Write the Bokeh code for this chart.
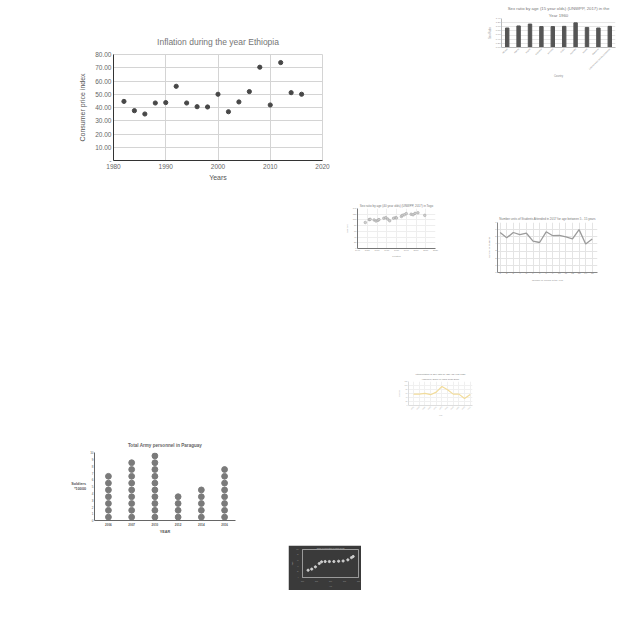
import math
from bokeh.plotting import figure
from bokeh.layouts import column, row
from bokeh.models import Range1d, FixedTicker, Title, FactorRange, CustomJSTickFormatter, Spacer
from bokeh.embed import file_html
from bokeh.resources import INLINE

FONT = "Liberation Sans"

# ---------------- data ----------------
# Main chart: Inflation during the year Ethiopia
eth_years = [1982, 1984, 1986, 1988, 1990, 1992, 1994, 1996, 1998, 2000,
             2002, 2004, 2006, 2008, 2010, 2012, 2014, 2016]
eth_cpi = [44.6, 37.6, 35.1, 43.4, 43.7, 56.0, 43.4, 40.6, 40.4, 50.0,
           36.8, 44.2, 52.0, 70.4, 41.9, 73.9, 51.2, 50.0]
eth_xticks = [1980, 1990, 2000, 2010, 2020]
eth_yticks = [0, 10, 20, 30, 40, 50, 60, 70, 80]

# Sex ratio bar chart (1960)
sr_countries = ["Albania", "Algeria", "Angola", "Argentina", "Armenia", "Aruba",
                "Australia", "Austria", "Bahamas", "Latin America and the Caribbean"]
sr_values = [0.94, 1.04, 1.13, 1.01, 1.01, 1.02, 1.19, 0.97, 0.94, 1.02]
sr_yticks = [0, 0.2, 0.4, 0.6, 0.8, 1.0, 1.2, 1.4]

# Togo scatter
togo_years = [1948, 1952, 1953, 1957, 1959, 1961, 1962, 1967, 1969, 1971, 1973, 1977,
              1979, 1980, 1985, 1986, 1988, 1990, 1995, 1997, 1999, 2002, 2009]
togo_ratio = [91, 101, 102, 100, 96, 99, 101, 106, 108, 103, 97, 106,
              108, 107, 112, 116, 118, 122, 120, 118, 123, 125, 116]
togo_xticks = [1940, 1950, 1960, 1970, 1980, 1990, 2000, 2010, 2020]

# Students line chart
stu_x = list(range(1, 16))
stu_y = [5.6, 4.85, 5.6, 5.3, 5.5, 4.4, 4.2, 5.7, 5.15, 5.2, 5.0, 4.7, 6.0, 4.0, 4.7]

# Yellow line chart
yel_labels = ["1950", "1955", "1960", "1965", "1970", "1975", "1980", "1985", "1990", "1995", "2000"]
yel_values = [57, 57, 61, 54, 67, 95, 79, 57, 57, 35, 55]

# Paraguay army pictogram
par_years = ["2006", "2007", "2010", "2012", "2014", "2016"]
par_counts = [7, 9, 10, 4, 5, 8]

# Dark scatter
dark_x = [2002, 2003.3, 2004.6, 2006, 2006.8, 2008.1, 2009.6, 2011.2, 2012.9, 2014.5, 2016.2, 2017.5, 2018.1]
dark_y = [26, 30, 38, 50, 56, 57, 57, 57, 58, 59, 63, 71, 75]


def fig(width, height, **kw):
    return figure(width=width, height=height, output_backend="svg",
                  toolbar_location=None, **kw)


def style_axes(p, size, color="#8a8a8a", label_size=None, line_color="#bbbbbb"):
    for ax in p.axis:
        ax.major_label_text_font = FONT
        ax.major_label_text_font_size = size
        ax.major_label_text_color = color
        ax.axis_label_text_font = FONT
        ax.axis_label_text_font_size = label_size or size
        ax.axis_label_text_font_style = "normal"
        ax.axis_label_text_color = color
        ax.major_tick_line_color = None
        ax.minor_tick_line_color = None
        ax.major_tick_out = 0
        ax.major_label_standoff = 1
        ax.axis_label_standoff = 1
        ax.axis_line_color = line_color


def add_title(p, text, size, color="#777777", standoff=2, style="normal"):
    p.add_layout(Title(text=text, align="center", text_font=FONT, text_font_size=size,
                       text_color=color, text_font_style=style, standoff=standoff), "above")


# ---------------- main chart ----------------
pm = fig(260, 163, x_range=Range1d(1980, 2020), y_range=Range1d(0, 80),
         min_border_left=43, min_border_right=8, min_border_top=29, min_border_bottom=28)
pm.title.text = "Inflation during the year Ethiopia"
pm.title.align = "center"
pm.title.text_font = FONT
pm.title.text_font_size = "8.5px"
pm.title.text_font_style = "normal"
pm.title.text_color = "#757575"
pm.title.standoff = 15
pm.outline_line_color = "#d4d4d4"
pm.scatter(eth_years, eth_cpi, size=4.2, color="#474747")
pm.xaxis.ticker = FixedTicker(ticks=eth_xticks)
pm.yaxis.ticker = FixedTicker(ticks=eth_yticks)
pm.yaxis.formatter = CustomJSTickFormatter(code="return tick == 0 ? '-' : tick.toFixed(2);")
pm.xaxis.axis_label = "Years"
pm.yaxis.axis_label = "Consumer price index"
for ax in pm.axis:
    ax.major_label_text_font = FONT
    ax.major_label_text_font_size = "6.5px"
    ax.major_label_text_color = "#666666"
    ax.axis_label_text_font = FONT
    ax.axis_label_text_font_size = "7px"
    ax.axis_label_text_font_style = "normal"
    ax.axis_label_text_color = "#555555"
    ax.major_tick_line_color = None
    ax.minor_tick_line_color = None
    ax.major_tick_out = 0
    ax.axis_line_color = "#333333"
    ax.major_label_standoff = 2
pm.yaxis.axis_label_standoff = 6
pm.xaxis.axis_label_standoff = 2
pm.xaxis.major_label_standoff = 3
pm.grid.grid_line_color = "#d4d4d4"

# ---------------- sex ratio bars ----------------
pb = fig(145, 85, x_range=FactorRange(*sr_countries), y_range=Range1d(0, 1.4),
         min_border_left=26, min_border_right=5, min_border_top=18, min_border_bottom=38)
add_title(pb, "Year 1960", "4.3px", standoff=1)
add_title(pb, "Sex ratio by age (15 year olds) (UNWPP, 2017) in the", "4.3px", standoff=0)
pb.vbar(x=sr_countries, top=sr_values, width=0.3, color="#555555")
pb.yaxis.ticker = FixedTicker(ticks=sr_yticks)
pb.yaxis.formatter = CustomJSTickFormatter(code="return tick.toFixed(2);")
pb.xaxis.major_label_orientation = math.pi / 4
pb.xaxis.axis_label = "Country"
pb.yaxis.axis_label = "Sex Ratio"
style_axes(pb, "2.4px")
pb.xaxis.major_label_text_font_size = "2px"
pb.xaxis.axis_label_text_font_size = "2.6px"
pb.yaxis.axis_label_text_font_size = "2.6px"
pb.xgrid.grid_line_color = None
pb.ygrid.grid_line_color = "#e6e6e6"
pb.outline_line_color = None

# ---------------- Togo scatter ----------------
pt = fig(107, 64, x_range=Range1d(1940, 2020), y_range=Range1d(0, 140),
         min_border_left=19, min_border_right=10, min_border_top=13, min_border_bottom=10)
add_title(pt, "Sex ratio by age (40 year olds) (UNWPP, 2017) in Togo", "3px", standoff=3)
pt.scatter(togo_years, togo_ratio, size=2.6, fill_color="#cfcfcf", line_color="#9a9a9a", line_width=0.5)
pt.xaxis.ticker = FixedTicker(ticks=togo_xticks)
pt.yaxis.ticker = FixedTicker(ticks=list(range(0, 141, 20)))
pt.xaxis.axis_label = "Location"
pt.yaxis.axis_label = "Sex ratio"
style_axes(pt, "2.2px", line_color="#777777")
pt.grid.grid_line_color = "#eeeeee"
pt.outline_line_color = None

# ---------------- students line ----------------
pl = fig(120, 80, x_range=Range1d(0.6, 15.8), y_range=Range1d(0, 7),
         min_border_left=10, min_border_right=8, min_border_top=14, min_border_bottom=16)
add_title(pl, "Number units of Students Attended in 2017 for age between 5 - 15 years", "3px", standoff=4)
pl.line(stu_x, stu_y, color="#9b9b9b", line_width=1.3)
pl.xaxis.ticker = FixedTicker(ticks=stu_x)
pl.yaxis.ticker = FixedTicker(ticks=list(range(0, 8)))
pl.xaxis.axis_label = "Number of Weeks of the Year"
pl.yaxis.axis_label = "Number of Students"
style_axes(pl, "2.4px", line_color="#888888")
pl.grid.grid_line_color = "#e4e4e4"
pl.grid.minor_grid_line_color = "#f1f1f1"
pl.outline_line_color = None

# ---------------- yellow line ----------------
py = fig(85, 50, x_range=Range1d(-0.9, 10.4), y_range=Range1d(0, 120),
         min_border_left=13, min_border_right=8, min_border_top=10, min_border_bottom=15)
add_title(py, "(UNWPP, 2017) in India 1950-2000", "2.4px", standoff=1)
add_title(py, "Interpretation of Sex ratio by age (15 year olds)", "2.4px", standoff=0)
py.line(list(range(len(yel_values))), yel_values, color="#f2dc9b", line_width=1.2)
py.xaxis.ticker = FixedTicker(ticks=list(range(len(yel_labels))))
py.xaxis.formatter = CustomJSTickFormatter(args=dict(labels=yel_labels),
                                           code="return labels[Math.round(tick)] || '';")
py.xaxis.major_label_orientation = math.pi / 4
py.yaxis.ticker = FixedTicker(ticks=list(range(0, 121, 20)))
py.xaxis.axis_label = "Year"
py.yaxis.axis_label = "Sex ratio"
style_axes(py, "1.8px", color="#aaaaaa", line_color="#dddddd")
py.grid.grid_line_color = "#f0f0f0"
py.outline_line_color = None

# ---------------- Paraguay pictogram ----------------
pp = fig(175, 103, x_range=Range1d(-0.6, 5.47), y_range=Range1d(0, 10),
         min_border_left=25, min_border_right=8, min_border_top=15, min_border_bottom=19)
pp.title.text = "Total Army personnel in Paraguay"
pp.title.align = "center"
pp.title.text_font = FONT
pp.title.text_font_size = "4.6px"
pp.title.text_font_style = "bold"
pp.title.text_color = "#666666"
pp.title.standoff = 9
dot_x, dot_y = [], []
for i, n in enumerate(par_counts):
    for k in range(n):
        dot_x.append(i)
        dot_y.append(k + 0.5)
pp.scatter(dot_x, dot_y, size=5.8, color="#7a7a7a")
pp.xaxis.ticker = FixedTicker(ticks=list(range(len(par_years))))
pp.xaxis.formatter = CustomJSTickFormatter(args=dict(labels=par_years),
                                           code="return labels[Math.round(tick)] || '';")
pp.yaxis.ticker = FixedTicker(ticks=list(range(0, 11)))
pp.xaxis.axis_label = "YEAR"
pp.yaxis.axis_label = "Soldiers\n*10000"
pp.yaxis.axis_label_orientation = "horizontal"
style_axes(pp, "3px", color="#555555", line_color="#666666")
pp.xaxis.axis_label_text_font_style = "bold"
pp.yaxis.axis_label_text_font_style = "bold"
pp.xaxis.axis_label_text_font_size = "3.8px"
pp.yaxis.axis_label_text_font_size = "3.8px"
pp.xaxis.major_label_text_font_style = "bold"
pp.xaxis.major_label_standoff = 2
pp.grid.grid_line_color = None
pp.outline_line_color = None

# ---------------- dark scatter ----------------
pd_ = fig(73, 45, x_range=Range1d(2000, 2020), y_range=Range1d(0, 100),
          min_border_left=9, min_border_right=3, min_border_top=4, min_border_bottom=3,
          background_fill_color="#3a3a3a", border_fill_color="#3a3a3a")
add_title(pd_, "Share of population in urban areas", "1.8px", color="#bbbbbb", standoff=0)
pd_.scatter(dark_x, dark_y, size=2.2, color="#d0d0d0")
style_axes(pd_, "1.4px", color="#999999", line_color="#9a9a9a")
pd_.grid.grid_line_color = None
pd_.outline_line_color = "#9a9a9a"
pd_.xaxis.axis_label = "Year"
pd_.yaxis.axis_label = "Share"
for ax in pd_.axis:
    ax.major_label_standoff = 0
    ax.axis_label_standoff = 0


# ---------------- layout ----------------
def vpad(h):
    return Spacer(width=1, height=h)


def hpad(w):
    return Spacer(width=w, height=1)


row_a = row(hpad(70), column(vpad(25), pm), hpad(145), pb)
row_b = row(hpad(338), column(vpad(7), pt), hpad(40), column(vpad(20), pl))
row_c = row(hpad(395), py)
row_d = row(hpad(68), pp)
row_e = row(hpad(288), pd_)
layout = column(row_a, row_b, vpad(82), row_c, vpad(16), row_d, vpad(6), row_e)

open("out.html", "w").write(file_html(layout, INLINE))
